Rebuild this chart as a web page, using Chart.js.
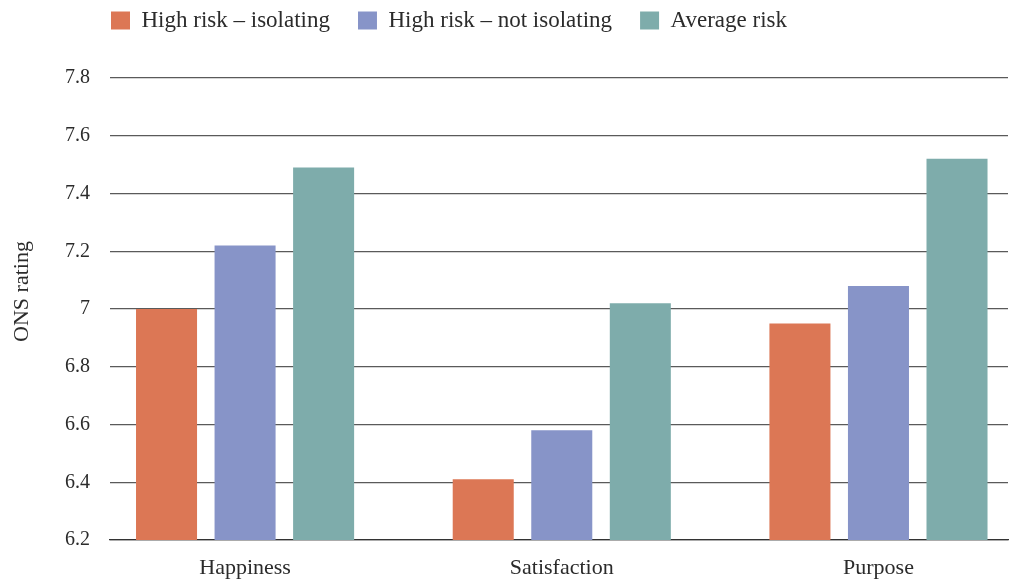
<!DOCTYPE html>
<html>
<head>
<meta charset="utf-8">
<script src="https://cdn.jsdelivr.net/npm/chart.js@4/dist/chart.umd.min.js"></script>
<style>
  html, body { margin: 0; padding: 0; background: #ffffff; }
  #wrap { width: 1011px; height: 583px; position: relative; }
</style>
</head>
<body>
<div id="wrap"><canvas id="chart"></canvas></div>
<script>
// Mean ONS wellbeing ratings by risk group
const categories = ['Happiness', 'Satisfaction', 'Purpose'];
const seriesNames = ['High risk – isolating', 'High risk – not isolating', 'Average risk'];
const highRiskIsolating = [7.00, 6.41, 6.95];
const highRiskNotIsolating = [7.22, 6.58, 7.08];
const averageRisk = [7.49, 7.02, 7.52];
const yTicks = [6.2, 6.4, 6.6, 6.8, 7, 7.2, 7.4, 7.6, 7.8];
const yTitle = 'ONS rating';

const colors = ['#DC7755', '#8794C8', '#7EACAB'];
const FONT = "'Liberation Serif', 'Times New Roman', serif";
const TEXT = '#2b2b2b';

function toPoints(values) {
  return values.map((v, i) => ({ x: i, y: v }));
}

// Y axis title, centred on the canvas height
const yTitlePlugin = {
  id: 'yTitle',
  afterDraw(chart) {
    const ctx = chart.ctx;
    ctx.save();
    ctx.translate(22, chart.height / 2);
    ctx.rotate(-Math.PI / 2);
    ctx.font = "22px " + FONT;
    ctx.fillStyle = TEXT;
    ctx.textAlign = 'center';
    ctx.textBaseline = 'middle';
    ctx.fillText(yTitle, 0, 0);
    ctx.restore();
  }
};

// Legend: fixed band height, items lined up with the plot's left edge
const legendPlacement = {
  id: 'legendPlacement',
  beforeLayout(chart) {
    const lg = chart.legend;
    if (lg && !lg._fixedFit) {
      const fit = lg.fit.bind(lg);
      lg.fit = function () { fit(); this.height = 78; };
      lg._fixedFit = true;
    }
  },
  afterLayout(chart) {
    const lg = chart.legend;
    const pad = lg.options.labels.padding;
    const w = lg.right - lg.left;
    lg.left = 111 - pad;
    lg.right = lg.left + w;
    const h = lg.bottom - lg.top;
    lg.top = 9 - pad;
    lg.bottom = lg.top + h;
  }
};

new Chart(document.getElementById('chart'), {
  type: 'bar',
  data: {
    datasets: [
      { label: seriesNames[0], data: toPoints(highRiskIsolating), backgroundColor: colors[0] },
      { label: seriesNames[1], data: toPoints(highRiskNotIsolating), backgroundColor: colors[1] },
      { label: seriesNames[2], data: toPoints(averageRisk), backgroundColor: colors[2] }
    ]
  },
  plugins: [yTitlePlugin, legendPlacement],
  options: {
    responsive: true,
    maintainAspectRatio: false,
    animation: false,
    layout: { padding: { top: 0, right: 3, bottom: 0, left: 0 } },
    datasets: {
      bar: { categoryPercentage: 0.744, barPercentage: 0.777 }
    },
    plugins: {
      tooltip: { enabled: false },
      legend: {
        position: 'top',
        align: 'start',
        fullSize: false,
        labels: {
          boxWidth: 19,
          boxHeight: 18,
          padding: 28,
          color: TEXT,
          font: { family: FONT, size: 23 }
        }
      }
    },
    scales: {
      x: {
        type: 'linear',
        offset: false,
        min: -0.4265,
        max: 2.409,
        afterBuildTicks(scale) {
          scale.ticks = categories.map((c, i) => ({ value: i }));
        },
        afterFit(scale) { scale.height = 43; },
        grid: { display: false },
        border: { display: true, color: '#333333', width: 1.2 },
        ticks: {
          padding: 7,
          color: TEXT,
          font: { family: FONT, size: 22 },
          callback: (value) => categories[value]
        }
      },
      y: {
        min: 6.2,
        max: 7.8,
        afterBuildTicks(scale) {
          scale.ticks = yTicks.map(v => ({ value: v }));
        },
        afterFit(scale) { scale.width = 110; },
        grid: { color: '#5a5a5a', lineWidth: 1.3, drawTicks: false },
        border: { display: false },
        ticks: {
          padding: 20,
          color: TEXT,
          font: { family: FONT, size: 20 },
          callback: (value) => String(value)
        }
      }
    }
  }
});
</script>
</body>
</html>
